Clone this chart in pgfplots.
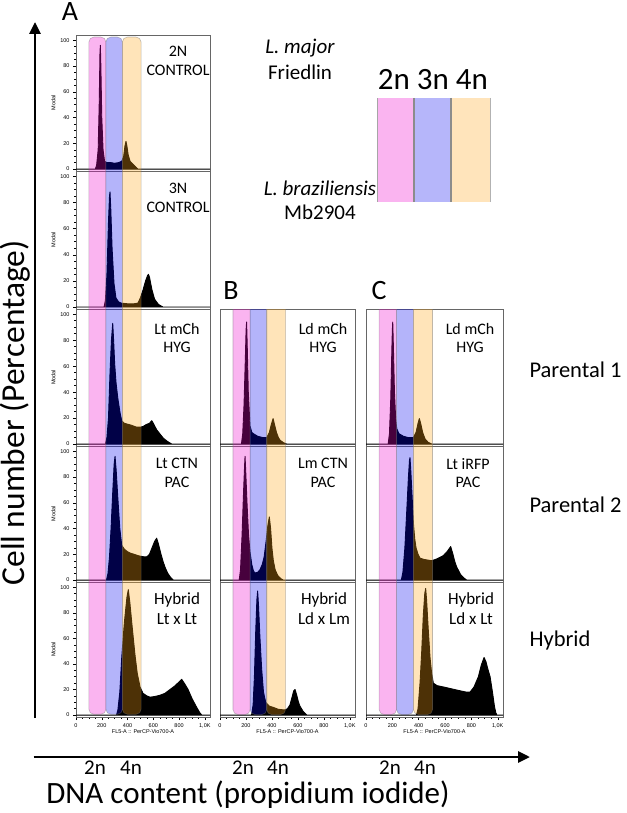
\documentclass[border=0pt]{standalone}
\usepackage{fontspec}
\setmainfont{Carlito}
\newfontfamily\arialf{Liberation Sans}
\usepackage{pgfplots}
\pgfplotsset{compat=1.18}
\usetikzlibrary{arrows.meta}

\definecolor{gpink}{RGB}{238,5,205}
\definecolor{gblue}{RGB}{5,5,238}
\definecolor{gorange}{RGB}{255,165,22}
\definecolor{lpink}{RGB}{250,180,240}
\definecolor{lblue}{RGB}{182,182,250}
\definecolor{lorange}{RGB}{255,228,187}

\newcommand{\tickf}{\arialf\fontsize{5.5}{6}\selectfont}

\pgfplotsset{
  panel/.style={scale only axis, anchor=north west, xmin=0, xmax=1040, ymin=-1.5, ymax=104,
    xtick=\empty, ytick=\empty, axis line style={black!60, line width=0.6pt},
    tick style={black, line width=0.4pt}, major tick length=3pt, minor tick length=1.6pt,
    tick align=outside, xtick pos=bottom, ytick pos=left,
    /pgf/number format/assume math mode=true,
    tick label style={font=\tickf}, label style={font=\tickf}},
  yaxisA/.style={ytick={0,20,40,60,80,100}, minor y tick num=3, ylabel={Modal}, ylabel style={yshift=-2pt}},
  xaxisB/.style={xtick={0,200,400,600,800,1000}, xticklabels={0,200,400,600,800,{1,0K}},
    minor x tick num=3, xlabel={FL5-A :: PerCP-Vio700-A}, xlabel style={yshift=5pt}},
  hist/.style={fill=black, draw=black, line width=0.9pt, line join=round},
  gates/.style={scale only axis, anchor=north west, xmin=0, xmax=1040, ymin=0, ymax=1, hide axis, clip=true},
  gate/.style={fill=#1, fill opacity=0.3, draw=black!55, draw opacity=0.45, line width=0.6pt, rounded corners=5pt},
}

\begin{document}
\begin{tikzpicture}
\useasboundingbox (0pt,0pt) rectangle (626pt,-813pt);

% ---------------- Column A ----------------
\begin{axis}[panel, yaxisA, at={(76pt,-35pt)}, width=134pt, height=136pt]
\addplot[hist] coordinates {(0,0) (150,0) (160,3) (172,15) (180,50) (186,90) (189,96) (193,80) (200,40) (210,15) (222,6) (240,5) (270,5) (300,4.5) (330,5) (355,6) (370,10) (380,18) (388,21.5) (395,18) (405,11) (420,6) (440,4) (460,2) (475,0.5) (480,0) (1040,0)} \closedcycle;
\end{axis}
\begin{axis}[panel, yaxisA, at={(76pt,-171pt)}, width=134pt, height=138pt]
\addplot[hist] coordinates {(0,0) (218,0) (228,5) (240,25) (252,65) (260,85) (264,88) (270,75) (280,45) (295,18) (310,7) (330,4) (350,3) (400,2.5) (450,2.5) (480,3) (500,7) (520,13) (540,20) (555,24) (562,25) (570,23) (590,13) (610,6) (640,2) (675,0) (1040,0)} \closedcycle;
\end{axis}
\begin{axis}[panel, yaxisA, at={(76pt,-309pt)}, width=134pt, height=137pt]
\addplot[hist] coordinates {(0,0) (228,0) (240,5) (252,20) (264,55) (275,80) (285,93) (292,80) (300,62) (311,47) (325,35) (342,24) (355,18) (375,16) (393,15.5) (430,14.5) (470,13) (497,13) (520,13.5) (545,15) (570,16) (588,18) (600,16) (626,11) (650,8) (678,4.5) (710,2) (743,0) (1040,0)} \closedcycle;
\end{axis}
\begin{axis}[panel, yaxisA, at={(76pt,-446pt)}, width=134pt, height=136pt]
\addplot[hist] coordinates {(0,0) (236,0) (248,5) (260,18) (272,40) (285,68) (296,90) (303,96) (312,85) (322,68) (329,57) (340,40) (355,27) (375,24) (400,22) (419,21) (450,20) (480,19) (500,18.5) (530,18) (549,18) (570,20) (590,25) (610,30) (626,32.5) (640,28) (660,20) (677,14) (695,9) (714,5) (735,2) (755,0) (1040,0)} \closedcycle;
\end{axis}
\begin{axis}[panel, yaxisA, xaxisB, at={(76pt,-582pt)}, width=134pt, height=135pt]
\addplot[hist] coordinates {(0,0) (314,0) (325,4) (340,18) (355,45) (375,72) (395,92) (406,98) (418,88) (435,70) (458,47) (475,33) (497,22) (520,17) (550,15) (575,14) (610,14.5) (652,15.5) (690,17) (730,20) (770,23) (800,26) (820,28) (840,25) (870,20) (900,13) (937,6) (960,2) (976,0) (1040,0)} \closedcycle;
\end{axis}

% ---------------- Column B ----------------
\begin{axis}[panel, at={(220pt,-309pt)}, width=135pt, height=137pt]
\addplot[hist] coordinates {(0,0) (165,0) (175,8) (185,30) (195,65) (201,88) (205,94) (210,75) (218,40) (231,14) (245,9) (257,8) (290,6) (330,5) (360,5) (380,9) (395,15) (409,19.6) (420,15) (435,9) (450,5) (462,3) (490,1) (514,0) (1040,0)} \closedcycle;
\end{axis}
\begin{axis}[panel, at={(220pt,-446pt)}, width=135pt, height=136pt]
\addplot[hist] coordinates {(0,0) (148,0) (158,8) (170,35) (182,70) (190,90) (193,96) (198,85) (208,60) (220,35) (231,22) (245,12) (258,7) (270,5.5) (290,6) (308,8) (325,12) (340,18) (355,30) (368,42) (380,49) (390,40) (400,25) (411,15) (425,8) (438,5) (449,3) (470,1) (488,0) (1040,0)} \closedcycle;
\end{axis}
\begin{axis}[panel, xaxisB, at={(220pt,-582pt)}, width=135pt, height=135pt]
\addplot[hist] coordinates {(0,0) (243,0) (255,8) (265,30) (275,65) (284,90) (290,97) (297,85) (307,62) (321,36) (335,18) (352,10) (380,7) (411,6) (450,4.5) (500,4) (520,5) (539,8) (555,14) (568,19) (578,20) (590,16) (605,10) (616,7) (640,3) (668,0) (1040,0)} \closedcycle;
\end{axis}

% ---------------- Column C ----------------
\begin{axis}[panel, at={(366pt,-309pt)}, width=137pt, height=137pt]
\addplot[hist] coordinates {(0,0) (168,0) (178,8) (188,35) (196,72) (200,88) (203,94) (208,75) (216,40) (225,20) (233,12) (250,8) (284,6) (320,5) (360,5) (380,9) (395,16) (405,19.6) (415,16) (430,9) (448,4) (470,1.5) (499,0) (1040,0)} \closedcycle;
\end{axis}
\begin{axis}[panel, at={(366pt,-446pt)}, width=137pt, height=136pt]
\addplot[hist] coordinates {(0,0) (268,0) (280,6) (295,25) (310,55) (322,80) (330,93) (334,95) (340,85) (350,65) (360,44) (370,32) (380,25) (395,20) (410,17) (440,16) (470,15.5) (499,15) (540,16.5) (587,19) (615,22) (643,26) (660,20) (675,14) (689,10) (720,4) (745,1.5) (764,0) (1040,0)} \closedcycle;
\end{axis}
\begin{axis}[panel, xaxisB, at={(366pt,-582pt)}, width=137pt, height=135pt]
\addplot[hist] coordinates {(0,0) (383,0) (395,5) (410,25) (423,50) (435,78) (446,95) (453,99) (460,90) (472,68) (486,45) (498,33) (511,25) (540,23) (587,22) (650,20.5) (714,19) (760,18) (790,18) (820,22) (853,30) (875,39) (896,45) (910,42) (925,36) (942,30) (960,18) (975,7) (985,2) (993,0) (1040,0)} \closedcycle;
\end{axis}

% ---------------- Gate overlays ----------------
\begin{axis}[gates, at={(76pt,-35pt)}, width=134pt, height=682pt]
\addplot[gate=gpink] coordinates {(100,0.004) (232,0.004) (232,0.997) (100,0.997)} -- cycle;
\addplot[gate=gblue] coordinates {(232,0.004) (360,0.004) (360,0.997) (232,0.997)} -- cycle;
\addplot[gate=gorange] coordinates {(360,0.004) (505,0.004) (505,0.997) (360,0.997)} -- cycle;
\end{axis}
\begin{axis}[gates, at={(220pt,-309pt)}, width=135pt, height=408pt]
\addplot[gate=gpink] coordinates {(100,0.006) (232,0.006) (232,1.2) (100,1.2)} -- cycle;
\addplot[gate=gblue] coordinates {(232,0.006) (360,0.006) (360,1.2) (232,1.2)} -- cycle;
\addplot[gate=gorange] coordinates {(360,0.006) (505,0.006) (505,1.2) (360,1.2)} -- cycle;
\end{axis}
\begin{axis}[gates, at={(366pt,-309pt)}, width=137pt, height=408pt]
\addplot[gate=gpink] coordinates {(100,0.006) (232,0.006) (232,1.2) (100,1.2)} -- cycle;
\addplot[gate=gblue] coordinates {(232,0.006) (360,0.006) (360,1.2) (232,1.2)} -- cycle;
\addplot[gate=gorange] coordinates {(360,0.006) (505,0.006) (505,1.2) (360,1.2)} -- cycle;
\end{axis}

% ---------------- Panel texts ----------------
\begin{scope}[every node/.style={align=center, font=\fontsize{16}{18.5}\selectfont}]
\node at (178pt,-61pt) {2N\\CONTROL};
\node at (178pt,-198pt) {3N\\CONTROL};
\node at (177pt,-338pt) {Lt mCh\\HYG};
\node at (177pt,-473pt) {Lt CTN\\PAC};
\node at (323pt,-338pt) {Ld mCh\\HYG};
\node at (323pt,-473pt) {Lm CTN\\PAC};
\node at (470pt,-338pt) {Ld mCh\\HYG};
\node at (468pt,-473pt) {Lt iRFP\\PAC};
\end{scope}
\begin{scope}[every node/.style={align=center, font=\fontsize{17}{20}\selectfont}]
\node at (177pt,-609pt) {Hybrid\\Lt x Lt};
\node at (324pt,-609pt) {Hybrid\\Ld x Lm};
\node at (471pt,-609pt) {Hybrid\\Ld x Lt};
\end{scope}

% panel letters
\node[font=\fontsize{28}{28}\selectfont] at (70pt,-12pt) {A};
\node[font=\fontsize{28}{28}\selectfont] at (231pt,-291pt) {B};
\node[font=\fontsize{28}{28}\selectfont] at (379pt,-291pt) {C};

% species
\node[font=\fontsize{21}{21}\selectfont\itshape] at (300pt,-48pt) {L. major};
\node[font=\fontsize{21}{21}\selectfont] at (300pt,-72pt) {Friedlin};
\node[font=\fontsize{21}{21}\selectfont\itshape] at (320pt,-188pt) {L. braziliensis};
\node[font=\fontsize{21}{21}\selectfont] at (320pt,-212pt) {Mb2904};

% legend
\node[font=\fontsize{31}{31}\selectfont] at (433pt,-80pt) {2n 3n 4n};
\fill[lpink] (377pt,-98pt) rectangle (414pt,-202pt);
\fill[lblue] (414pt,-98pt) rectangle (451pt,-202pt);
\fill[lorange] (451pt,-98pt) rectangle (490pt,-202pt);
\draw[black!35, line width=0.8pt] (377pt,-98pt) -- (377pt,-202pt);
\draw[black!45, line width=1.5pt] (414pt,-98pt) -- (414pt,-202pt);
\draw[black!45, line width=1.5pt] (451pt,-98pt) -- (451pt,-202pt);
\draw[black!30, line width=0.8pt] (490pt,-98pt) -- (490pt,-202pt);

% row labels
\node[anchor=west, font=\fontsize{22.5}{22.5}\selectfont] at (526pt,-370pt) {Parental 1};
\node[anchor=west, font=\fontsize{22.5}{22.5}\selectfont] at (526pt,-505pt) {Parental 2};
\node[anchor=west, font=\fontsize{22.5}{22.5}\selectfont] at (526pt,-640pt) {Hybrid};

% axes arrows and titles
\draw[line width=2.8pt, -{Triangle[length=12pt, width=11pt]}] (35pt,-718pt) -- (35pt,-22pt);
\draw[line width=2.8pt, -{Triangle[length=12pt, width=11pt]}] (33.6pt,-757pt) -- (530pt,-757pt);
\node[rotate=90, font=\fontsize{33.5}{33.5}\selectfont] at (15pt,-413pt) {Cell number (Percentage)};
\node[font=\fontsize{31}{31}\selectfont, inner sep=0pt] at (248pt,-795pt) {DNA content (propidium iodide)};

\begin{scope}[every node/.style={font=\fontsize{21}{21}\selectfont}]
\node at (95pt,-768pt) {2n};
\node at (131pt,-768pt) {4n};
\node at (243pt,-768pt) {2n};
\node at (278pt,-768pt) {4n};
\node at (390pt,-768pt) {2n};
\node at (425pt,-768pt) {4n};
\end{scope}
\end{tikzpicture}
\end{document}
